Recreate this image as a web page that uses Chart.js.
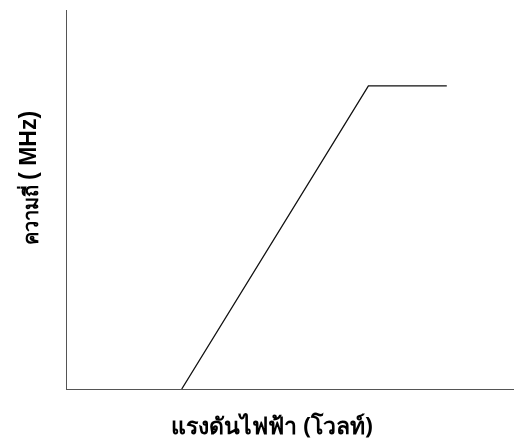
<!DOCTYPE html>
<html>
<head>
<meta charset="utf-8">
<script src="https://cdn.jsdelivr.net/npm/chart.js@4"></script>
<style>
  html, body { margin: 0; padding: 0; background: #fff; }
  #wrap { width: 514px; height: 445px; }
</style>
</head>
<body>
<div id="wrap"><canvas id="freqChart" width="514" height="445"></canvas></div>
<script>
// แรงดัน (โวลท์) และ ความถี่ (MHz) - ค่าอ่านจากภาพ
const voltage = [3.1, 8.1, 10.2];
const frequency = [0, 8, 8];
const xTitle = 'แรงดันไฟฟ้า (โวลท์)';
const yTitleThai = 'ความถี่';
const yTitleUnit = '( MHz)';

const points = voltage.map((v, i) => ({ x: v, y: frequency[i] }));

// วาดชื่อแกนเอง เพื่อให้ตำแหน่งตรงกับภาพ
const axisTitles = {
    id: 'axisTitles',
    afterDraw(chart) {
        const ctx = chart.ctx;
        ctx.save();
        ctx.fillStyle = '#000';
        ctx.textAlign = 'center';
        ctx.textBaseline = 'middle';
        ctx.font = 'bold 23px "Noto Sans", "DejaVu Sans", sans-serif';
        ctx.fillText(xTitle, 272, 427);

        ctx.translate(30, 178);
        ctx.rotate(-Math.PI / 2);
        ctx.textAlign = 'left';
        const thaiFont = 'bold 20px "Noto Sans", "DejaVu Sans", sans-serif';
        const unitFont = 'bold 23px "Liberation Sans", Arial, sans-serif';
        ctx.font = thaiFont;
        const w1 = ctx.measureText(yTitleThai + ' ').width;
        ctx.font = unitFont;
        const w2 = ctx.measureText(yTitleUnit).width;
        const start = -(w1 + w2) / 2;
        ctx.font = thaiFont;
        ctx.fillText(yTitleThai, start, 2);
        ctx.font = unitFont;
        ctx.fillText(yTitleUnit, start + w1, 0);
        ctx.restore();
    }
};

const chart = new Chart(document.getElementById('freqChart'), {
    type: 'line',
    data: {
        datasets: [{
            data: points,
            borderColor: '#111',
            borderWidth: 1.3,
            pointRadius: 0,
            tension: 0,
            fill: false
        }]
    },
    options: {
        responsive: false,
        animation: false,
        layout: { padding: { left: 66, top: 10, right: 0, bottom: 56 } },
        plugins: {
            legend: { display: false },
            tooltip: { enabled: false }
        },
        scales: {
            x: {
                type: 'linear',
                min: 0,
                max: 12,
                grid: { display: false, drawTicks: false, tickLength: 0 },
                ticks: { display: false, padding: 0 },
                border: { display: true, color: '#555', width: 1, dash: [1, 1] }
            },
            y: {
                min: 0,
                max: 10,
                grid: { display: false, drawTicks: false, tickLength: 0 },
                ticks: { display: false, padding: 0 },
                border: { display: true, color: '#555', width: 1, dash: [1, 1] }
            }
        }
    },
    plugins: [axisTitles]
});
</script>
</body>
</html>
